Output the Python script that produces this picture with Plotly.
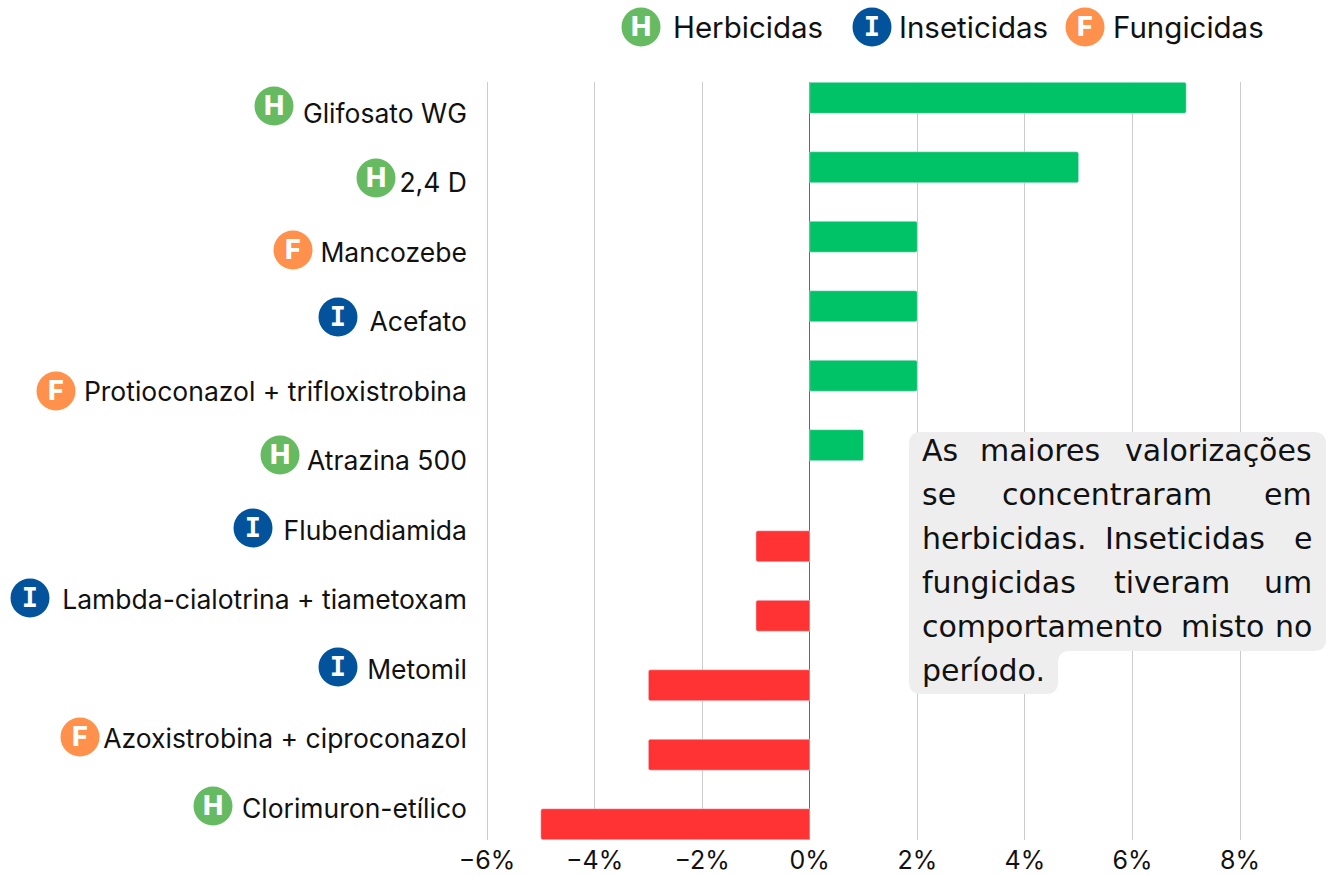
import plotly.graph_objects as go

W, H = 1332, 875
FONT = "Inter"
NOTE_FONT = "DejaVu Sans"
INK = "#111111"

products = ["Glifosato WG", "2,4 D", "Mancozebe", "Acefato", "Protioconazol + trifloxistrobina",
            "Atrazina 500", "Flubendiamida", "Lambda-cialotrina + tiametoxam", "Metomil",
            "Azoxistrobina + ciproconazol", "Clorimuron-etílico"]
alta = [7, 5, 2, 2, 2, 1, None, None, None, None, None]
baixa = [None, None, None, None, None, None, -1, -1, -3, -3, -5]
classes = ["H", "H", "F", "I", "F", "H", "I", "I", "I", "F", "H"]
class_names = ["Herbicidas", "Inseticidas", "Fungicidas"]
class_letters = ["H", "I", "F"]
class_colors = {"H": "#66BB62", "I": "#02539C", "F": "#FF914D"}

icon_x = [274, 376, 293, 338, 56, 280, 253, 30, 338, 80, 213]
icon_y = [106, 178, 250, 317, 391, 455, 528, 598, 667, 737, 806]
legend_icon_x = [641, 872, 1085]
legend_text_x = [673, 899, 1113]

note_lines = [
    (450, [("As", 922), ("maiores", 980)], "valorizações"),
    (494, [("se", 922), ("concentraram", 1002)], "em"),
    (538, [("herbicidas.", 922), ("Inseticidas", 1105)], "e"),
    (582, [("fungicidas", 922), ("tiveram", 1114)], "um"),
    (626, [("comportamento", 922), ("misto", 1181)], "no"),
    (670, [("período.", 922)], None),
]

fig = go.Figure()
fig.add_bar(y=products, x=alta, orientation="h", marker_color="#00C267", name="Alta", showlegend=False)
fig.add_bar(y=products, x=baixa, orientation="h", marker_color="#FF3333", name="Baixa", showlegend=False)

all_letters = classes + class_letters
all_x = icon_x + legend_icon_x
all_y = icon_y + [27] * 3
fig.add_scatter(
    x=all_x, y=all_y, xaxis="x2", yaxis="y2", mode="markers", showlegend=False,
    marker=dict(size=39, color=[class_colors[c] for c in all_letters], line_width=0),
    hoverinfo="skip",
)
fig.add_scatter(
    x=all_x, y=[v + 2 for v in all_y], xaxis="x2", yaxis="y2", mode="text", showlegend=False,
    text=all_letters, textposition="middle center",
    textfont=dict(color="white", size=27, weight=800,
                  family=["DejaVu Sans Mono" if c == "I" else FONT for c in all_letters]),
    hoverinfo="skip",
)

annotations = []
for name, x in zip(class_names, legend_text_x):
    annotations.append(dict(x=x, y=27, xref="x2", yref="y2", text=name, showarrow=False,
                            xanchor="left", yanchor="middle", xshift=-2,
                            font=dict(family=FONT, size=29.5, color=INK)))
for y, words, last in note_lines:
    for word, x in words:
        annotations.append(dict(x=x, y=y, xref="x2", yref="y2", text=word, showarrow=False,
                                xanchor="left", yanchor="middle", xshift=-2,
                                font=dict(family=NOTE_FONT, size=30, color=INK)))
    if last:
        annotations.append(dict(x=1312, y=y, xref="x2", yref="y2", text=last, showarrow=False,
                                xanchor="right", yanchor="middle", xshift=2,
                                font=dict(family=NOTE_FONT, size=30, color=INK)))

box = ("M 921 432 L 1314 432 Q 1326 432 1326 444 L 1326 639 Q 1326 651 1314 651 "
       "L 1070 651 Q 1058 651 1058 663 L 1058 682 Q 1058 694 1046 694 L 921 694 "
       "Q 909 694 909 682 L 909 444 Q 909 432 921 432 Z")

pad = 0.02
px_per_unit = (1240 - 487) / 14

fig.update_layout(
    width=W, height=H, autosize=False,
    margin=dict(l=0, r=0, t=0, b=0, autoexpand=False),
    paper_bgcolor="white", plot_bgcolor="rgba(0,0,0,0)",
    barmode="group", bargap=0.09, bargroupgap=0.02, barcornerradius=2,
    font=dict(family=FONT, size=27, color=INK),
    annotations=annotations,
    shapes=[dict(type="path", path=box, xref="x2", yref="y2", fillcolor="#EEEEEE", line_width=0, layer="above")],
    xaxis=dict(domain=[(487 - pad * px_per_unit) / W, (1240 + pad * px_per_unit) / W],
               range=[-6 - pad, 8 + pad], tick0=0, dtick=2, ticksuffix="%",
               showgrid=True, gridcolor="#CCCCCC", gridwidth=1, zeroline=True, zerolinecolor="#666666",
               zerolinewidth=1, ticks="", ticklabelstandoff=3, showline=False, anchor="y", automargin=False,
               tickfont=dict(family=FONT, size=25, color=INK)),
    yaxis=dict(domain=[1 - 840 / H, 1 - 82 / H], range=[10.455, -0.455], type="category",
               categoryorder="array", categoryarray=products, ticks="", showgrid=False,
               ticklabelstandoff=18, showline=False, anchor="x", automargin=False,
               tickfont=dict(family=FONT, size=26.5, color=INK)),
    xaxis2=dict(domain=[0, 1], range=[0, W], visible=False, anchor="y2", fixedrange=True),
    yaxis2=dict(domain=[0, 1], range=[H, 0], visible=False, anchor="x2", fixedrange=True),
)
fig.write_html("out.html", config={"displayModeBar": False},
               post_script="document.body.style.margin='0';document.documentElement.style.overflow='hidden';")
